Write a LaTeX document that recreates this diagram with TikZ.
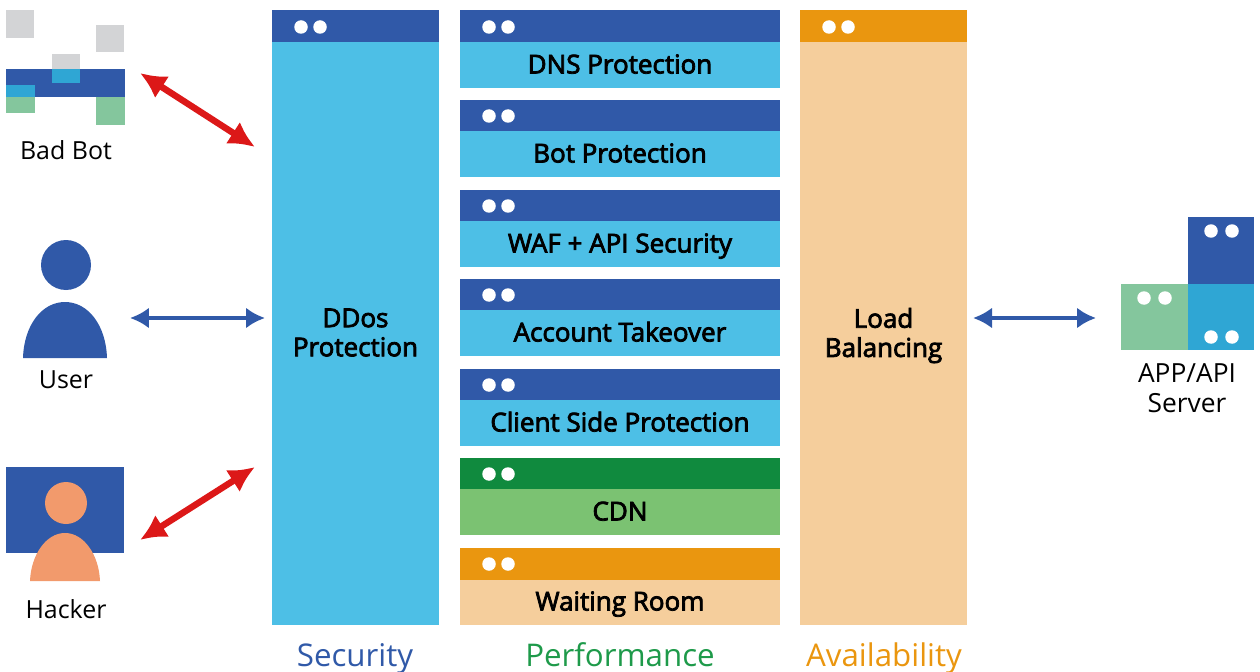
\documentclass[tikz,border=0pt]{standalone}
\usepackage{fontspec}
\setmainfont{Open Sans}
\newfontfamily\panelfont[FakeBold=3]{Open Sans}
\usetikzlibrary{arrows.meta}
\definecolor{headblue}{HTML}{3059A8}
\definecolor{bodycyan}{HTML}{4DBFE6}
\definecolor{headgreen}{HTML}{108A3E}
\definecolor{bodygreen}{HTML}{7BC272}
\definecolor{headorange}{HTML}{EA960F}
\definecolor{bodyorange}{HTML}{F5CE9C}
\definecolor{botgray}{HTML}{D3D4D6}
\definecolor{mint}{HTML}{84C69D}
\definecolor{deepcyan}{HTML}{2FA6D4}
\definecolor{arrowred}{HTML}{DC1818}
\definecolor{skin}{HTML}{F29A6C}
\definecolor{perfgreen}{HTML}{1E9A4A}
\begin{document}
\begin{tikzpicture}[x=0.02cm,y=-0.02cm]
	\tikzstyle{head}=[anchor=north west,inner sep=0,outer sep=0,minimum height=0.64cm]
	\tikzstyle{rowhead}=[head,minimum width=6.4cm]
	\tikzstyle{rowbody}=[anchor=north west,inner sep=0,outer sep=0,minimum width=6.4cm,minimum height=0.92cm,text height=0.4cm,text depth=0.06cm,text=black,font=\panelfont\fontsize{14.8}{17}\selectfont]
	\tikzstyle{colhead}=[head,minimum width=3.34cm]
	\tikzstyle{colbody}=[anchor=north west,inner sep=0,outer sep=0,minimum width=3.34cm,minimum height=11.66cm,align=center,text depth=0.04cm,font=\panelfont\fontsize{14.8}{16.6}\selectfont]
	\tikzstyle{dot}=[circle,fill=white,inner sep=0,minimum size=0.27cm]
	\tikzstyle{label}=[font=\fontsize{14.2}{17}\selectfont,text=black]
	\tikzstyle{group}=[anchor=base,font=\fontsize{17.8}{22}\selectfont]
	\tikzstyle{redarrow}=[draw=arrowred,line width=0.13cm,{Latex[length=0.52cm,width=0.52cm]}-{Latex[length=0.52cm,width=0.52cm]}]
	\tikzstyle{bluearrow}=[draw=headblue,line width=0.085cm,{Latex[length=0.38cm,width=0.42cm]}-{Latex[length=0.38cm,width=0.42cm]}]
	\tikzstyle{tile}=[anchor=north west,inner sep=0,outer sep=0]
	\useasboundingbox (0,0) rectangle (1260,672);
	% ddos column
	\node [colbody,fill=bodycyan] (ddos) at (272,42) {DDos\\Protection};
	\node [colhead,fill=headblue] (ddoshead) at (272,10) {};
	\node [dot] (ddosa) at (301,27) {};
	\node [dot] (ddosb) at (320,27) {};
	% load balancing column
	\node [colbody,fill=bodyorange] (lb) at (800,42) {Load\\Balancing};
	\node [colhead,fill=headorange] (lbhead) at (800,10) {};
	\node [dot] (lba) at (829,27) {};
	\node [dot] (lbb) at (848,27) {};
	% middle rows
	\node [rowhead,fill=headblue] (dnshead) at (460,10) {};
	\node [rowbody,fill=bodycyan] (dns) at (460,42) {DNS Protection};
	\node [dot] (dnsa) at (489,27) {};
	\node [dot] (dnsb) at (508,27) {};
	\node [rowhead,fill=headblue] (bothead) at (460,100) {};
	\node [rowbody,fill=bodycyan] (botp) at (460,131) {Bot Protection};
	\node [dot] (bota) at (489,116) {};
	\node [dot] (botb) at (508,116) {};
	\node [rowhead,fill=headblue] (wafhead) at (460,190) {};
	\node [rowbody,fill=bodycyan] (waf) at (460,221) {WAF + API Security};
	\node [dot] (wafa) at (489,206) {};
	\node [dot] (wafb) at (508,206) {};
	\node [rowhead,fill=headblue] (acchead) at (460,279) {};
	\node [rowbody,fill=bodycyan] (acc) at (460,310) {Account Takeover};
	\node [dot] (acca) at (489,295) {};
	\node [dot] (accb) at (508,295) {};
	\node [rowhead,fill=headblue] (cshead) at (460,369) {};
	\node [rowbody,fill=bodycyan] (cs) at (460,400) {Client Side Protection};
	\node [dot] (csa) at (489,385) {};
	\node [dot] (csb) at (508,385) {};
	\node [rowhead,fill=headgreen] (cdnhead) at (460,458) {};
	\node [rowbody,fill=bodygreen] (cdn) at (460,489) {CDN};
	\node [dot] (cdna) at (489,474) {};
	\node [dot] (cdnb) at (508,474) {};
	\node [rowbody,fill=bodyorange] (wr) at (460,579) {Waiting Room};
	\node [rowhead,fill=headorange] (wrhead) at (460,548) {};
	\node [dot] (wra) at (489,564) {};
	\node [dot] (wrb) at (508,564) {};
	% group names
	\node [group,text=headblue] (security) at (355,666) {Security};
	\node [group,text=perfgreen] (performance) at (620,666) {Performance};
	\node [group,text=headorange] (availability) at (884,666) {Availability};
	% bad bot icon
	\fill [botgray] (6,10) rectangle (34,38);
	\fill [botgray] (96,25) rectangle (124,52);
	\fill [botgray] (52,54) rectangle (80,69);
	\fill [headblue] (6,69) rectangle (125,97);
	\fill [deepcyan] (52,69) rectangle (80,83);
	\fill [deepcyan] (6,85) rectangle (35,97);
	\fill [mint] (6,97) rectangle (35,113);
	\fill [mint] (96,97) rectangle (125,125);
	\node [label] (badbot) at (66,150) {Bad Bot};
	% user icon
	\fill [headblue] (66,265) circle (25);
	\fill [headblue] (23,358) .. controls (24,325) and (42,302) .. (65,302) .. controls (88,302) and (106,325) .. (107,358) -- cycle;
	\node [label] (user) at (66,380) {User};
	% hacker icon
	\fill [headblue] (6,467) rectangle (124,553);
	\fill [skin] (66,503) circle (21);
	\fill [skin] (30,581) .. controls (31,555) and (46,533) .. (65,533) .. controls (84,533) and (99,555) .. (100,581) -- cycle;
	\node [label] (hacker) at (66,609) {Hacker};
	% server icon
	\node [tile,fill=headblue,minimum width=1.32cm,minimum height=1.34cm] (srvtop) at (1188,217) {};
	\node [tile,fill=mint,minimum width=1.34cm,minimum height=1.32cm] (srvleft) at (1121,284) {};
	\node [tile,fill=deepcyan,minimum width=1.32cm,minimum height=1.32cm] (srvright) at (1188,284) {};
	\node [dot] (srva) at (1211,231) {};
	\node [dot] (srvb) at (1232,231) {};
	\node [dot] (srvc) at (1144,298) {};
	\node [dot] (srvd) at (1165,298) {};
	\node [dot] (srve) at (1211,337) {};
	\node [dot] (srvf) at (1232,337) {};
	\node [label,align=center,font=\fontsize{15}{17}\selectfont] (server) at (1187,388) {APP/API\\Server};
	% arrows
	\coordinate (botend) at (140,73);
	\coordinate (botport) at (255,147);
	\coordinate (userend) at (130,318);
	\coordinate (userport) at (265,318);
	\coordinate (hackerend) at (140,540);
	\coordinate (hackerport) at (255,467);
	\coordinate (lbport) at (973,318);
	\coordinate (srvport) at (1096,318);
	\path [redarrow] (botend) -- (botport);
	\path [bluearrow] (userend) -- (userport);
	\path [redarrow] (hackerend) -- (hackerport);
	\path [bluearrow] (lbport) -- (srvport);
\end{tikzpicture}
\end{document}
